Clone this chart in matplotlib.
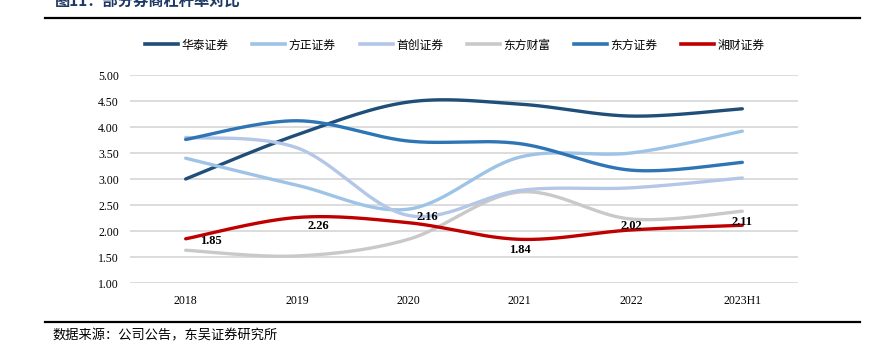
import numpy as np
import matplotlib
matplotlib.use("Agg")
import matplotlib.pyplot as plt
from matplotlib.lines import Line2D

plt.rcParams['font.family'] = ['Noto Sans CJK SC', 'DejaVu Sans']

categories = ["2018", "2019", "2020", "2021", "2022", "2023H1"]
series_names = ["华泰证券", "方正证券", "首创证券", "东方财富", "东方证券", "湘财证券"]
huatai = [3.00, 3.85, 4.48, 4.44, 4.21, 4.35]
fangzheng = [3.40, 2.88, 2.42, 3.42, 3.50, 3.92]
shouchuang = [3.80, 3.60, 2.30, 2.78, 2.83, 3.02]
dongcai = [1.63, 1.52, 1.84, 2.75, 2.23, 2.38]
dongfang = [3.76, 4.12, 3.73, 3.68, 3.17, 3.32]
xiangcai = [1.85, 2.26, 2.16, 1.84, 2.02, 2.11]
yticks = [1.00, 1.50, 2.00, 2.50, 3.00, 3.50, 4.00, 4.50, 5.00]

all_series = [huatai, fangzheng, shouchuang, dongcai, dongfang, xiangcai]
colors = ["#1F4E79", "#9DC3E6", "#B4C7E7", "#C9C9C9", "#2E75B6", "#C00000"]
zorders = [3, 3, 3, 2, 3, 4]
label_offsets = [(18, -1.5), (15, -6), (14, 4), (0, -8), (0, 3), (0, 2.5)]


def smooth(xs, ys, n=40):
    P = np.column_stack([xs, ys]).astype(float)
    P_ext = np.vstack([P[0], P, P[-1]])
    out = []
    for i in range(len(P) - 1):
        p0, p1, p2, p3 = P_ext[i], P_ext[i + 1], P_ext[i + 2], P_ext[i + 3]
        c1 = p1 + (p2 - p0) / 6.0
        c2 = p2 - (p3 - p1) / 6.0
        t = np.linspace(0, 1, n)[:, None]
        seg = ((1 - t) ** 3) * p1 + 3 * ((1 - t) ** 2) * t * c1 + 3 * (1 - t) * t ** 2 * c2 + t ** 3 * p2
        out.append(seg if i == 0 else seg[1:])
    pts = np.vstack(out)
    return pts[:, 0], pts[:, 1]


fig = plt.figure(figsize=(8.77, 3.52), dpi=100)
ax = fig.add_axes([130 / 877, 1 - 283 / 352, 668 / 877, 208 / 352])

x = np.arange(len(categories))
for vals, c, z in zip(all_series, colors, zorders):
    sx, sy = smooth(x, vals)
    ax.plot(sx, sy, color=c, lw=2.4, zorder=z, solid_capstyle='round')

for xi, v, (dx, dy) in zip(x, xiangcai, label_offsets):
    ax.annotate(f"{v:.2f}", (xi, v), xytext=(dx, dy), textcoords='offset points',
                ha='center', va='center', fontsize=9, fontweight='bold',
                family=['Liberation Serif'], color='black', zorder=6)

ax.set_xlim(-0.5, len(categories) - 0.5)
ax.set_ylim(1.0, 5.0)
ax.set_yticks(yticks)
ax.set_yticklabels([f"{t:.2f}" for t in yticks], family=['Liberation Serif'], fontsize=8.5)
ax.set_xticks(x)
ax.set_xticklabels(categories, family=['Liberation Serif'], fontsize=8.5)
ax.grid(axis='y', color='#D9D9D9', lw=1.3)
ax.set_axisbelow(True)
for s in ax.spines.values():
    s.set_visible(False)
ax.tick_params(length=0, pad=8)
ax.tick_params(axis='x', pad=9)

handles = [Line2D([0], [0], color=c, lw=2.6) for c in colors]
fig.legend(handles, series_names, loc='center', bbox_to_anchor=(455 / 877, 1 - 45 / 352),
           ncol=6, frameon=False, fontsize=8.5, handlelength=2.8, handletextpad=0.3,
           columnspacing=2.0)

# header / footer rules
fig.add_artist(Line2D([45 / 877, 860 / 877], [1 - 18 / 352] * 2, color='black', lw=1.6))
fig.add_artist(Line2D([45 / 877, 860 / 877], [1 - 322 / 352] * 2, color='black', lw=1.6))
fig.text(55 / 877, 1 - 1 / 352, "图11：部分券商杠杆率对比", fontsize=11, fontweight='bold',
         color='#1F3864', va='center', ha='left')
fig.text(52 / 877, 1 - 336 / 352, "数据来源：公司公告，东吴证券研究所", fontsize=9.5,
         color='black', va='center', ha='left')

fig.savefig("out.png", dpi=100)
